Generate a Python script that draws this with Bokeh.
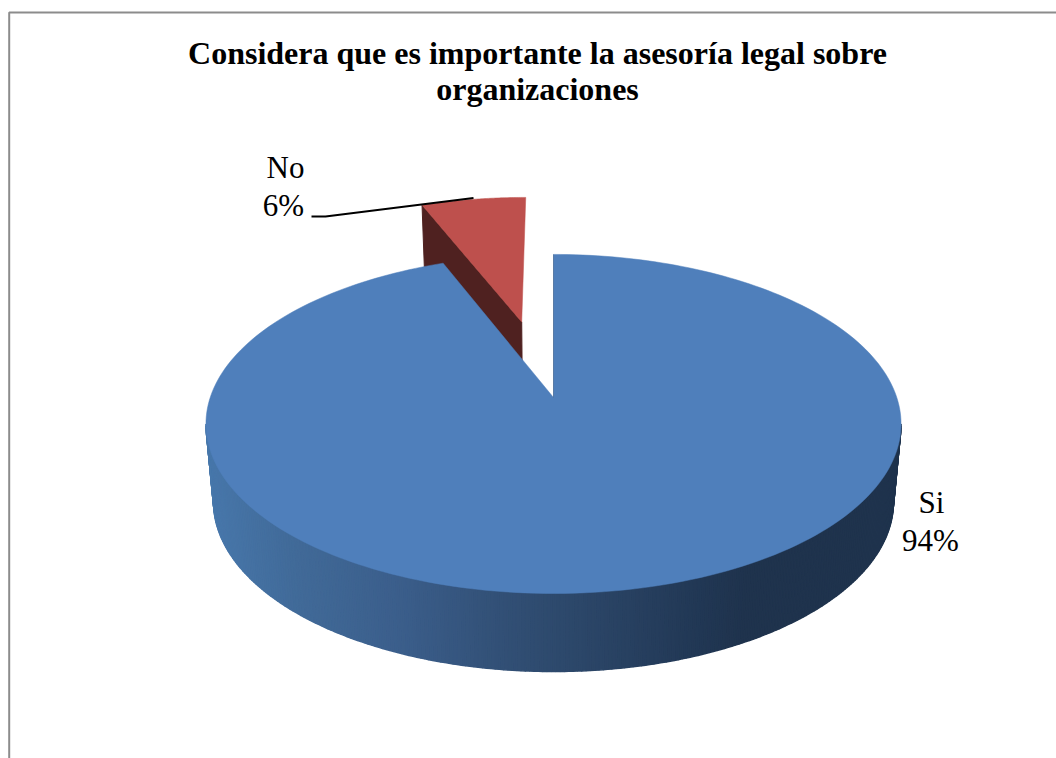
import numpy as np
from bokeh.plotting import figure
from bokeh.core.properties import value
from bokeh.embed import file_html
from bokeh.resources import INLINE

# ---- chart data ----
categories = ["Si", "No"]
percent = [94, 6]
title_lines = ["Considera que es importante la asesoría legal sobre", "organizaciones"]

# ---- colours ----
TOP = {"Si": "#4f7fbb", "No": "#be504d"}
CUT_NO = "#4f2120"
SIDE_X = [206, 300, 400, 500, 600, 700, 740, 900]
SIDE_RGB = [(72, 120, 172), (65, 106, 152), (59, 94, 139), (50, 80, 118),
            (42, 68, 101), (33, 55, 84), (31, 51, 77), (31, 51, 77)]

# ---- 3D pie geometry (perspective projection of a tilted disc) ----
CX, CY = 553.0, 397.0
A, B, K = 343.3, 165.4, 0.156
DROP = 78.0
SHRINK = 0.978
EXPLODE = 0.5
NO_NUDGE = -0.006
FONT = value("Liberation Serif")


def project(u, v, bottom=False):
    d = 1 - K * v
    s = SHRINK if bottom else 1.0
    return CX + s * A * u / d, CY + B * v / d + (DROP if bottom else 0.0)


def arc(t0, t1, n=240):
    return np.radians(np.linspace(t0, t1, n))


shares = np.array(percent, dtype=float) / sum(percent) * 360.0
si_start, si_end = 0.0, shares[0]
no_start, no_end = si_end, si_end + shares[1]

p = figure(width=1056, height=758, x_range=(0, 1056), y_range=(758, 0),
           x_axis_type=None, y_axis_type=None, toolbar_location=None,
           output_backend="svg", min_border=0, outline_line_color=None,
           background_fill_color="white", border_fill_color="white")
p.grid.visible = False

# chart frame
p.line([8.7, 8.7, 1056], [758, 12, 12], line_color="#8c8c8c", line_width=2)

# ---- "No" slice (exploded, behind) ----
mid = np.radians((no_start + no_end) / 2)
ou, ov = EXPLODE * np.sin(mid) + NO_NUDGE, -EXPLODE * np.cos(mid)
t = arc(no_start, no_end, 60)
u = ou + np.sin(t)
v = ov - np.cos(t)
a_x, a_y = project(ou, ov)
b_x, b_y = project(ou, ov, True)
e_x, e_y = project(u[0], v[0])
f_x, f_y = project(u[0], v[0], True)
p.patch([a_x, e_x, f_x, b_x], [a_y, e_y, f_y, b_y], fill_color=CUT_NO, line_color=CUT_NO)
tx, ty = project(u, v)
p.patch(np.r_[a_x, tx], np.r_[a_y, ty], fill_color=TOP["No"], line_color=TOP["No"], line_width=0.5)

# ---- "Si" slice: wall as shaded strips, then the top face ----
wall_from = np.degrees(np.arccos(-K))
t = arc(wall_from, 360 - wall_from, 260)
wu, wv = np.sin(t), -np.cos(t)
bx, by = project(wu, wv, True)
tx, ty = project(wu, wv)
for i in range(len(t) - 1):
    xm = (bx[i] + bx[i + 1]) / 2
    rgb = [int(round(np.interp(xm, SIDE_X, [c[j] for c in SIDE_RGB]))) for j in range(3)]
    col = "#%02x%02x%02x" % tuple(rgb)
    p.patch([tx[i], tx[i + 1], bx[i + 1], bx[i]], [ty[i], ty[i + 1], by[i + 1], by[i]],
            fill_color=col, line_color=col, line_width=1.5)

t = arc(si_start, si_end)
tx, ty = project(np.sin(t), -np.cos(t))
p.patch(np.r_[CX, tx], np.r_[CY, ty], fill_color=TOP["Si"], line_color=TOP["Si"], line_width=0.5)
p.line([CX, CX], [CY, project(0, -1)[1]], line_color="#2c4a6e", line_width=0.6, line_alpha=0.7)

# ---- data labels ----
labels = list(categories)
pct = ["%d%%" % x for x in percent]
p.text([931, 285], [502, 167], text=labels, text_font=FONT, text_font_size="31px",
       text_color="#000000", text_align="center", text_baseline="middle")
p.text([930, 283], [540, 205], text=pct, text_font=FONT, text_font_size="31px",
       text_color="#000000", text_align="center", text_baseline="middle")
# leader line
p.line([311, 325, 473], [216, 216, 197.5], line_color="#000000", line_width=2)

# ---- title ----
p.text([537, 537], [52, 88], text=title_lines, text_font=FONT, text_font_size="32px",
       text_font_style="bold", text_color="#000000", text_align="center", text_baseline="middle")

open("out.html", "w").write(file_html(p, INLINE))
